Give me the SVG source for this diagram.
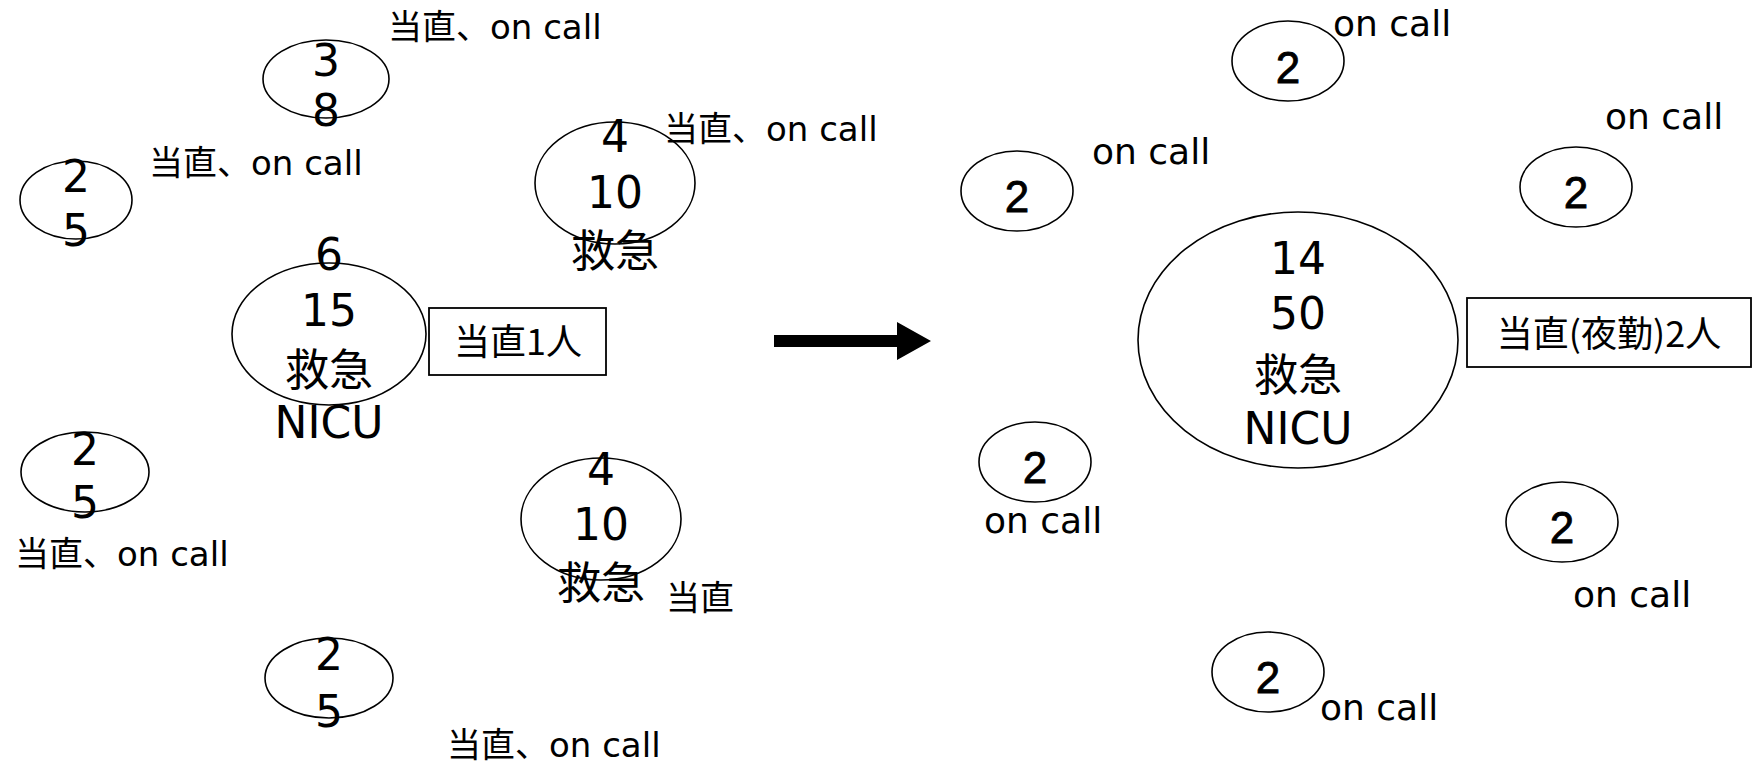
<svg xmlns="http://www.w3.org/2000/svg" width="1753" height="764" viewBox="0 0 1753 764">
<style>
.bg{fill:#fff}
.e{fill:none;stroke:#000;stroke-width:1.6}
.box{fill:#fff;stroke:#000;stroke-width:1.8}
.d{font-family:"DejaVu Sans","Noto Sans CJK JP",sans-serif;font-size:44px;fill:#000;text-anchor:middle}
.j{font-family:"Noto Sans CJK JP",sans-serif;font-size:44px;fill:#000;text-anchor:middle}
.r{font-family:"Liberation Sans","Noto Sans CJK JP",sans-serif;font-size:44px;fill:#000;text-anchor:middle;stroke:#000;stroke-width:0.8}
.l{font-family:"DejaVu Sans","Noto Sans CJK JP",sans-serif;font-size:34px;fill:#000}
.o{font-family:"DejaVu Sans",sans-serif;font-size:36px;fill:#000}
.b{font-family:"Noto Sans CJK JP",sans-serif;font-size:36px;fill:#000;text-anchor:middle}
</style>
<rect class="bg" x="0" y="0" width="1753" height="764"/>

<g id="connectors">
<path d="M774 335 L897 335 L897 322 L931 341 L897 360 L897 347 L774 347 Z" fill="#000"/>
</g>

<g id="nodeA">
<ellipse class="e" cx="326" cy="79" rx="63" ry="39"/>
<text class="d" x="326" y="76">3</text>
<text class="d" x="326" y="126">8</text>
</g>
<g id="nodeB">
<ellipse class="e" cx="76" cy="200" rx="56" ry="39"/>
<text class="d" x="76" y="192">2</text>
<text class="d" x="76" y="246">5</text>
</g>
<g id="nodeC">
<ellipse class="e" cx="615" cy="183" rx="80" ry="61"/>
<text class="d" x="615" y="152">4</text>
<text class="d" x="615" y="208">10</text>
<text class="j" x="615" y="267">救急</text>
</g>
<g id="nodeD">
<ellipse class="e" cx="329" cy="334" rx="97" ry="71"/>
<text class="d" x="329" y="270">6</text>
<text class="d" x="329" y="326">15</text>
<text class="j" x="329" y="386">救急</text>
<text class="d" x="329" y="438">NICU</text>
</g>
<g id="boxLeft">
<rect class="box" x="429" y="308" width="177" height="67"/>
<text class="b" x="518" y="355">当直1人</text>
</g>
<g id="nodeE">
<ellipse class="e" cx="85" cy="472" rx="64" ry="40"/>
<text class="d" x="85" y="465">2</text>
<text class="d" x="85" y="518">5</text>
</g>
<g id="nodeF">
<ellipse class="e" cx="601" cy="519" rx="80" ry="61"/>
<text class="d" x="601" y="485">4</text>
<text class="d" x="601" y="540">10</text>
<text class="j" x="601" y="599">救急</text>
</g>
<g id="nodeG">
<ellipse class="e" cx="329" cy="678" rx="64" ry="40"/>
<text class="d" x="329" y="670">2</text>
<text class="d" x="329" y="727">5</text>
</g>
<g id="labelsLeft">
<text class="l" x="388" y="39">当直、on call</text>
<text class="l" x="149" y="175">当直、on call</text>
<text class="l" x="664" y="141">当直、on call</text>
<text class="l" x="15" y="566">当直、on call</text>
<text class="l" x="666" y="610">当直</text>
<text class="l" x="447" y="757">当直、on call</text>
</g>

<g id="nodeH">
<ellipse class="e" cx="1288" cy="61" rx="56" ry="40"/>
<text class="r" x="1288" y="83">2</text>
</g>
<g id="nodeI">
<ellipse class="e" cx="1017" cy="191" rx="56" ry="40"/>
<text class="r" x="1017" y="212">2</text>
</g>
<g id="nodeJ">
<ellipse class="e" cx="1576" cy="187" rx="56" ry="40"/>
<text class="r" x="1576" y="208">2</text>
</g>
<g id="nodeK">
<ellipse class="e" cx="1298" cy="340" rx="160" ry="128"/>
<text class="d" x="1298" y="274">14</text>
<text class="d" x="1298" y="329">50</text>
<text class="j" x="1298" y="391">救急</text>
<text class="d" x="1298" y="444">NICU</text>
</g>
<g id="boxRight">
<rect class="box" x="1467" y="298" width="284" height="69"/>
<text class="b" x="1609" y="347">当直(夜勤)2人</text>
</g>
<g id="nodeL">
<ellipse class="e" cx="1035" cy="462" rx="56" ry="40"/>
<text class="r" x="1035" y="483">2</text>
</g>
<g id="nodeM">
<ellipse class="e" cx="1562" cy="522" rx="56" ry="40"/>
<text class="r" x="1562" y="543">2</text>
</g>
<g id="nodeN">
<ellipse class="e" cx="1268" cy="672" rx="56" ry="40"/>
<text class="r" x="1268" y="693">2</text>
</g>
<g id="labelsRight">
<text class="o" x="1333" y="36">on call</text>
<text class="o" x="1092" y="164">on call</text>
<text class="o" x="1605" y="129">on call</text>
<text class="o" x="984" y="533">on call</text>
<text class="o" x="1573" y="607">on call</text>
<text class="o" x="1320" y="720">on call</text>
</g>
</svg>
